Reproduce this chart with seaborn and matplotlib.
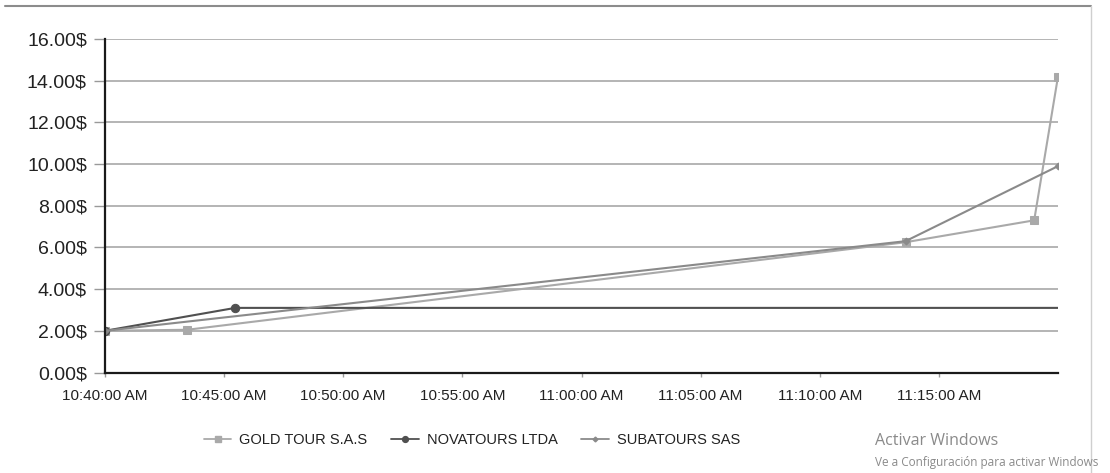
import matplotlib
matplotlib.use("Agg")
import matplotlib.pyplot as plt
import matplotlib.dates as mdates
from matplotlib.lines import Line2D
import seaborn as sns
import pandas as pd

# ---- data ----
gold_times = ["10:40:00", "10:43:27", "11:13:36", "11:19:00", "11:20:00"]
gold_values = [2.0, 2.05, 6.25, 7.3, 14.2]

nova_times = ["10:40:00", "10:45:28", "11:20:00"]
nova_values = [2.0, 3.1, 3.1]

suba_times = ["10:40:00", "11:13:36", "11:20:00"]
suba_values = [2.0, 6.3, 9.9]

series_names = ["GOLD TOUR S.A.S", "NOVATOURS LTDA", "SUBATOURS SAS"]
y_ticks = [0, 2, 4, 6, 8, 10, 12, 14, 16]
x_tick_times = ["10:40:00", "10:45:00", "10:50:00", "10:55:00",
                "11:00:00", "11:05:00", "11:10:00", "11:15:00"]

colors = {"GOLD TOUR S.A.S": "#a9a9a9", "NOVATOURS LTDA": "#505050", "SUBATOURS SAS": "#8a8a8a"}
markers = {"GOLD TOUR S.A.S": "s", "NOVATOURS LTDA": "o", "SUBATOURS SAS": "D"}
msizes = {"GOLD TOUR S.A.S": 6, "NOVATOURS LTDA": 6, "SUBATOURS SAS": 3.5}
mevery = {"GOLD TOUR S.A.S": None, "NOVATOURS LTDA": [0, 1], "SUBATOURS SAS": None}

day = "2020-01-01 "
rows = []
for name, ts, vs in zip(series_names, [gold_times, nova_times, suba_times],
                        [gold_values, nova_values, suba_values]):
    for t, v in zip(ts, vs):
        rows.append({"time": pd.Timestamp(day + t), "value": v, "series": name})
df = pd.DataFrame(rows)

sns.set_theme(style="white")
plt.rcParams["font.family"] = ["Liberation Sans", "DejaVu Sans"]

fig = plt.figure(figsize=(11.1, 4.73), dpi=100)
ax = fig.add_axes([105 / 1110, 1 - 372.5 / 473, (1058 - 105) / 1110, (372.5 - 39) / 473])

for name in series_names:
    sub = df[df["series"] == name]
    sns.lineplot(data=sub, x="time", y="value", ax=ax, color=colors[name],
                 marker=markers[name], markersize=msizes[name], markevery=mevery[name],
                 markeredgecolor=colors[name], linewidth=1.5, legend=False,
                 estimator=None, sort=False)

ax.set_xlim(pd.Timestamp(day + "10:40:00"), pd.Timestamp(day + "11:20:00"))
ax.set_ylim(0, 16)
ax.set_yticks(y_ticks)
ax.set_yticklabels([f"{v:.2f}$" for v in y_ticks])
ax.set_xticks([mdates.date2num(pd.Timestamp(day + t)) for t in x_tick_times])
ax.set_xticklabels([pd.Timestamp(day + t).strftime("%I:%M:%S %p") for t in x_tick_times])
ax.set_xlabel("")
ax.set_ylabel("")

ax.yaxis.grid(True, color="#a8a8a8", linewidth=1.2)
ax.xaxis.grid(False)
for s in ["top", "right"]:
    ax.spines[s].set_visible(False)
for s in ["left", "bottom"]:
    ax.spines[s].set_color("#1a1a1a")
    ax.spines[s].set_linewidth(1.6)
ax.tick_params(axis="y", length=8, width=1, color="#999999", pad=5,
               labelsize=14, labelcolor="#222222", left=True)
ax.tick_params(axis="x", length=3, width=1, color="#999999", pad=9,
               labelsize=11, labelcolor="#222222", bottom=True)

handles = [Line2D([0], [0], color=colors[n], marker=markers[n], markersize=msizes[n] * 0.7,
                  linewidth=1.3) for n in series_names]
fig.legend(handles, series_names, loc="center", bbox_to_anchor=(0.425, 0.07), ncol=3,
           frameon=False, fontsize=10.5, handlelength=1.9, handletextpad=0.55,
           columnspacing=1.6, labelcolor="#222222")

# frame lines of the screenshot
fig.add_artist(Line2D([5 / 1110, 1091 / 1110], [1 - 6 / 473, 1 - 6 / 473],
                      color="#8c8c8c", linewidth=1.5, transform=fig.transFigure))
fig.add_artist(Line2D([1091 / 1110, 1091 / 1110], [1 - 6 / 473, 0],
                      color="#cfcfcf", linewidth=1.0, transform=fig.transFigure))

fig.text(875 / 1110, 1 - 441 / 473, "Activar Windows", fontsize=11.5, color="#8a8a8a",
         family=["Open Sans", "DejaVu Sans"], va="center", ha="left")
fig.text(875 / 1110, 1 - 462 / 473, "Ve a Configuración para activar Windows", fontsize=8.5,
         color="#8a8a8a", family=["Open Sans", "DejaVu Sans"], va="center", ha="left")

fig.savefig("out.png", dpi=100, facecolor="white")
